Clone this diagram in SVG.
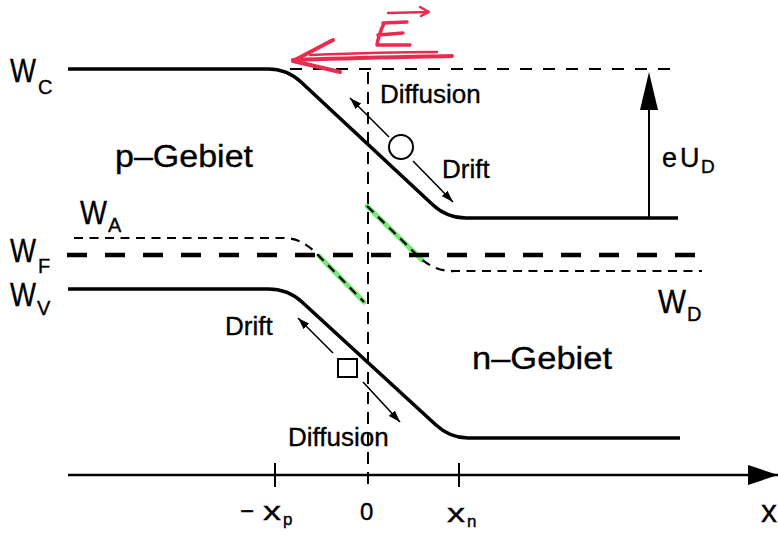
<svg xmlns="http://www.w3.org/2000/svg" width="778" height="535" viewBox="0 0 778 535">
<defs>
<style>
text{font-family:"Liberation Sans",Arial,Helvetica,sans-serif;fill:#000;stroke:#000;stroke-width:0.35}
.band{fill:none;stroke:#000;stroke-width:3.6;stroke-linejoin:round}
.fermi{fill:none;stroke:#000;stroke-width:4.5;stroke-dasharray:20,18}
.lvl{fill:none;stroke:#000;stroke-width:2.2;stroke-dasharray:9,6.5}
.guide{fill:none;stroke:#000;stroke-width:2;stroke-dasharray:12,11}
.thin{fill:none;stroke:#000;stroke-width:1.6}
.hl{fill:none;stroke:#3ddc3d;stroke-width:5;stroke-opacity:0.7;stroke-linecap:round}
.red{fill:none;stroke:#ea2a4e;stroke-linecap:round;stroke-linejoin:round}
.W{font-size:34px}
.sub{font-size:20px}
.lab{font-size:26px}
.reg{font-size:31px}
</style>
<marker id="ah" viewBox="0 0 12 8" refX="12" refY="4" markerWidth="12" markerHeight="8" markerUnits="userSpaceOnUse" orient="auto">
<path d="M0,0 L12,4 L0,8 Z" fill="#000"/>
</marker>
<marker id="axh" viewBox="0 0 30 20" refX="30" refY="10" markerWidth="30" markerHeight="20" markerUnits="userSpaceOnUse" orient="auto">
<path d="M0,0 L30,10 L0,20 Z" fill="#000"/>
</marker>
</defs>

<g id="guides">
<line class="guide" x1="290" y1="69" x2="678" y2="69"/>
<line class="guide" x1="368" y1="72" x2="368" y2="487" style="stroke-dasharray:12,8"/>
</g>

<g id="bands">
<path class="hl" d="M319,256 L364,302"/>
<path class="hl" d="M367,206 L422,260"/>
<path id="WC-band" class="band" d="M68,69 H268 Q287,69 301,82 L433,205 Q447,218 466,218 H678"/>
<path id="WV-band" class="band" d="M68,289 H268 Q288,289 302,302 L436,425 Q450,438 468,438 H680"/>
<path id="WF-level" class="fermi" d="M67,255 H702"/>
<path id="WA-level" class="lvl" d="M74,238 H284 Q302,238 318,255 L364,302"/>
<path id="WD-level" class="lvl" d="M367,206 L420,258 Q436,272 455,271 H702"/>
</g>

<g id="connectors">
<line class="thin" x1="389" y1="137" x2="350" y2="98" marker-end="url(#ah)"/>
<line class="thin" x1="413" y1="161" x2="453" y2="202" marker-end="url(#ah)"/>
<line class="thin" x1="333" y1="353" x2="298" y2="318" marker-end="url(#ah)"/>
<line class="thin" x1="363" y1="382" x2="400" y2="422" marker-end="url(#ah)"/>
<line x1="649" y1="218" x2="649" y2="80" stroke="#000" stroke-width="2"/>
<path d="M649,72 L658,110 L640,110 Z" fill="#000"/>
</g>

<g id="carriers">
<circle id="electron" cx="401" cy="147" r="12" fill="#fff" stroke="#000" stroke-width="2"/>
<rect id="hole" x="338" y="359" width="19" height="18" fill="#fff" stroke="#000" stroke-width="2"/>
</g>

<g id="axis">
<line x1="68" y1="475" x2="778" y2="475" stroke="#000" stroke-width="2.5" marker-end="url(#axh)"/>
<line x1="275" y1="463" x2="275" y2="487" stroke="#000" stroke-width="2"/>
<line x1="459" y1="463" x2="459" y2="487" stroke="#000" stroke-width="2"/>
</g>

<g id="efield">
<path class="red" stroke-width="4" d="M293,60 C350,58 410,57 452,56"/>
<path class="red" stroke-width="2.5" d="M310,55 C360,53 400,52 437,52"/>
<path class="red" stroke-width="4" d="M333,40 L293,61 L340,72"/>
<path class="red" stroke-width="3.5" d="M383,23 L407,22 M384,23 C381,30 378,38 377,45 L410,45 M378,35 L403,33"/>
<path class="red" stroke-width="2.5" d="M388,13 L428,12 M420,7 L429,12 L421,16"/>
</g>

<g id="labels">
<text class="W" x="10" y="82"><tspan textLength="26" lengthAdjust="spacingAndGlyphs">W</tspan><tspan class="sub" x="38" y="94">C</tspan></text>
<text class="W" x="80" y="224"><tspan textLength="27" lengthAdjust="spacingAndGlyphs">W</tspan><tspan class="sub" x="108" y="232">A</tspan></text>
<text class="W" x="10" y="262"><tspan textLength="26" lengthAdjust="spacingAndGlyphs">W</tspan><tspan class="sub" x="38" y="273">F</tspan></text>
<text class="W" x="10" y="306"><tspan textLength="26" lengthAdjust="spacingAndGlyphs">W</tspan><tspan class="sub" x="37" y="315">V</tspan></text>
<text class="W" x="658" y="313"><tspan textLength="28" lengthAdjust="spacingAndGlyphs">W</tspan><tspan class="sub" x="687" y="321">D</tspan></text>
<text class="reg" x="115" y="167" textLength="138" lengthAdjust="spacingAndGlyphs">p–Gebiet</text>
<text class="reg" x="472" y="369" textLength="140" lengthAdjust="spacingAndGlyphs">n–Gebiet</text>
<text class="lab" x="380" y="103">Diffusion</text>
<text class="lab" x="442" y="178">Drift</text>
<text class="lab" x="225" y="335">Drift</text>
<text class="lab" x="288" y="446">Diffusion</text>
<text style="font-size:27px" x="662" y="167">e<tspan x="680">U</tspan><tspan x="701" y="173" style="font-size:19px">D</tspan></text>
<text style="font-size:24px" x="240" y="519">−<tspan x="263" y="520" style="font-size:26px" textLength="18" lengthAdjust="spacingAndGlyphs">x</tspan><tspan x="283" y="525" style="font-size:17px">p</tspan></text>
<text style="font-size:24px" x="360" y="520">0</text>
<text style="font-size:26px" x="447" y="522"><tspan textLength="18" lengthAdjust="spacingAndGlyphs">x</tspan><tspan x="467" y="527" style="font-size:17px">n</tspan></text>
<text style="font-size:32px" x="761" y="522">x</text>
</g>
</svg>
